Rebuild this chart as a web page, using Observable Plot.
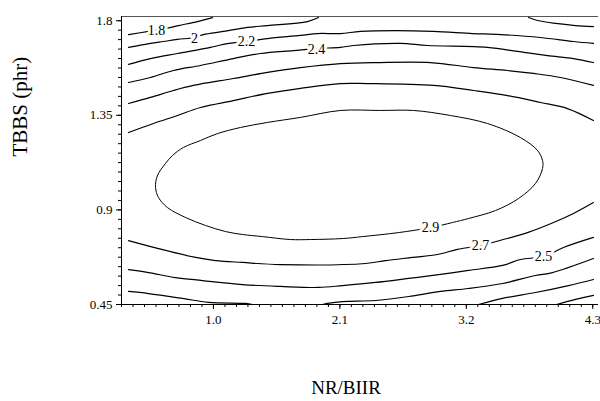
<!DOCTYPE html>
<html>
<head>
<meta charset="utf-8">
<script src="https://cdn.jsdelivr.net/npm/d3@7"></script>
<script src="https://cdn.jsdelivr.net/npm/@observablehq/plot@0.6"></script>
<style>
  html, body { margin: 0; padding: 0; background: #fff; }
</style>
</head>
<body>
<div id="chart"></div>
<script>
// Axis ticks and labels
const xTicks = [1.0, 2.1, 3.2, 4.3];
const xTickLabels = ["1.0", "2.1", "3.2", "4.3"];
const yTicks = [0.45, 0.9, 1.35, 1.8];
const yTickLabels = ["0.45", "0.9", "1.35", "1.8"];
const xTitle = "NR/BIIR";
const yTitle = "TBBS (phr)";

// Contour lines: [NR/BIIR, TBBS]
const line18 = [[0.261,1.734],[0.435,1.749],[0.583,1.763],[0.696,1.777],[0.861,1.796],[0.992,1.815]];
const line20a = [[0.261,1.673],[0.452,1.692],[0.565,1.701],[0.687,1.711],[0.835,1.720],[0.913,1.734],[1.087,1.749],[1.296,1.768],[1.470,1.777],[1.818,1.796],[1.914,1.815]];
const line20b = [[3.741,1.815],[3.819,1.801],[3.976,1.787],[4.150,1.777],[4.306,1.772]];
const line22 = [[0.261,1.592],[0.452,1.620],[0.687,1.644],[0.974,1.673],[1.087,1.687],[1.279,1.701],[1.470,1.715],[1.757,1.730],[1.905,1.739],[2.105,1.739],[2.279,1.749],[2.584,1.753],[2.914,1.749],[3.254,1.739],[3.497,1.734],[3.845,1.720],[4.132,1.701],[4.306,1.692]];
const line24 = [[0.261,1.506],[0.452,1.530],[0.652,1.563],[0.887,1.587],[1.174,1.620],[1.409,1.644],[1.696,1.658],[1.905,1.668],[2.105,1.673],[2.218,1.682],[2.627,1.692],[2.862,1.682],[3.384,1.673],[3.645,1.654],[3.906,1.634],[4.132,1.620],[4.306,1.601]];
const line26 = [[0.261,1.406],[0.452,1.435],[0.652,1.468],[0.826,1.492],[1.174,1.525],[1.470,1.554],[1.757,1.577],[2.105,1.596],[2.427,1.601],[2.888,1.601],[3.263,1.577],[3.558,1.563],[3.784,1.549],[4.019,1.530],[4.306,1.492]];
const line28 = [[0.261,1.268],[0.478,1.311],[0.687,1.349],[0.887,1.387],[1.174,1.420],[1.470,1.454],[1.757,1.478],[2.105,1.501],[2.340,1.501],[2.914,1.492],[3.263,1.468],[3.558,1.444],[3.845,1.411],[4.080,1.382],[4.306,1.325]];
const line29 = [[0.496,1.007],[0.513,1.064],[0.583,1.121],[0.644,1.159],[0.739,1.197],[0.887,1.230],[1.035,1.263],[1.235,1.292],[1.470,1.316],[1.757,1.340],[2.105,1.373],[2.453,1.373],[2.740,1.373],[3.062,1.349],[3.384,1.311],[3.671,1.244],[3.819,1.183],[3.863,1.135],[3.863,1.097],[3.802,1.026],[3.654,0.954],[3.454,0.897],[3.219,0.859],[3.080,0.840],[2.888,0.816],[2.610,0.792],[2.297,0.773],[2.131,0.764],[1.844,0.759],[1.670,0.759],[1.427,0.773],[1.253,0.783],[1.105,0.797],[0.931,0.826],[0.757,0.864],[0.600,0.911],[0.522,0.959]];
const line27 = [[0.261,0.754],[0.522,0.716],[0.844,0.674],[1.018,0.659],[1.253,0.650],[1.583,0.640],[2.323,0.645],[2.497,0.659],[2.732,0.674],[2.949,0.688],[3.123,0.712],[3.323,0.731],[3.523,0.759],[3.732,0.792],[3.959,0.840],[4.132,0.883],[4.306,0.935]];
const line25 = [[0.261,0.616],[0.435,0.602],[0.670,0.578],[0.905,0.564],[1.253,0.545],[1.583,0.536],[1.914,0.531],[2.123,0.540],[2.410,0.555],[2.697,0.574],[2.975,0.593],[3.219,0.612],[3.515,0.636],[3.671,0.664],[3.871,0.678],[4.045,0.721],[4.306,0.769]];
const line23a = [[0.261,0.512],[0.435,0.502],[0.731,0.479],[0.957,0.460],[1.279,0.455],[1.340,0.450]];
const line23b = [[1.949,0.450],[1.992,0.455],[2.123,0.464],[2.410,0.469],[2.697,0.488],[2.975,0.512],[3.219,0.526],[3.515,0.550],[3.802,0.588],[3.950,0.602],[4.306,0.669]];
const line21 = [[3.306,0.450],[3.515,0.479],[3.802,0.507],[4.089,0.540],[4.306,0.569]];
const line19 = [[3.985,0.450],[4.150,0.474],[4.306,0.493]];

// Contour labels
const labelText = ["1.8", "2", "2.2", "2.4", "2.9", "2.7", "2.5"];
const labelX = [0.505, 0.835, 1.288, 1.897, 2.888, 3.323, 3.871];
const labelY = [1.753, 1.717, 1.701, 1.663, 0.816, 0.731, 0.678];

const openLines = [
  ["1.8", line18], ["2.0a", line20a], ["2.0b", line20b], ["2.2", line22],
  ["2.4", line24], ["2.6", line26], ["2.8", line28], ["2.7", line27],
  ["2.5", line25], ["2.3a", line23a], ["2.3b", line23b], ["2.1", line21], ["1.9", line19]
];
const openTable = openLines.flatMap(([level, pts]) => pts.map(([x, y]) => ({level, x, y})));
const ellipseTable = line29.map(([x, y]) => ({level: "2.9", x, y}));
const labels = labelText.map((t, i) => ({t, x: labelX[i], y: labelY[i]}));

const xMinor = d3.range(2, 44).map(d => d / 10);
const yMinor = d3.range(10, 41).map(d => d * 0.045);

const serif = "'Liberation Serif', 'Times New Roman', Times, serif";

const chart = Plot.plot({
  width: 600,
  height: 401,
  marginLeft: 121,
  marginRight: 2,
  marginTop: 16,
  marginBottom: 97,
  style: {fontFamily: serif, background: "#fff", color: "#000"},
  x: {domain: [0.2, 4.35], label: null},
  y: {domain: [0.45, 1.82], label: null},
  marks: [
    Plot.ruleY([1.82], {stroke: "#555", strokeWidth: 1.2}),
    Plot.ruleX([0.2], {stroke: "#000"}),
    Plot.ruleY([0.45], {stroke: "#000"}),
    Plot.axisX(xMinor, {tickSize: 3, tickFormat: () => "", stroke: "#000", label: null}),
    Plot.axisX(xTicks, {tickSize: 5, tickPadding: 5, fontSize: 13, fill: "#000", label: null,
      tickFormat: d => xTickLabels[xTicks.indexOf(d)]}),
    Plot.axisY(yMinor, {tickSize: 3, tickFormat: () => "", stroke: "#000", label: null}),
    Plot.axisY(yTicks, {tickSize: 5, tickPadding: 4, fontSize: 13, fill: "#000", label: null,
      tickFormat: d => yTickLabels[yTicks.indexOf(d)]}),
    Plot.line(openTable, {x: "x", y: "y", z: "level", stroke: "#000", strokeWidth: 1.2, curve: "catmull-rom"}),
    Plot.line(ellipseTable, {x: "x", y: "y", z: "level", stroke: "#000", strokeWidth: 1, curve: "catmull-rom-closed"}),
    Plot.text(labels, {x: "x", y: "y", text: "t", fontSize: 14, fill: "#000", stroke: "#fff", strokeWidth: 6}),
    Plot.text([xTitle], {frameAnchor: "bottom", dx: -14, dy: 89, fontSize: 19, fill: "#000"}),
    Plot.text([yTitle], {frameAnchor: "left", rotate: -90, dx: -101, dy: -4, fontSize: 21, fill: "#000"})
  ]
});
document.getElementById("chart").appendChild(chart);
</script>
</body>
</html>
